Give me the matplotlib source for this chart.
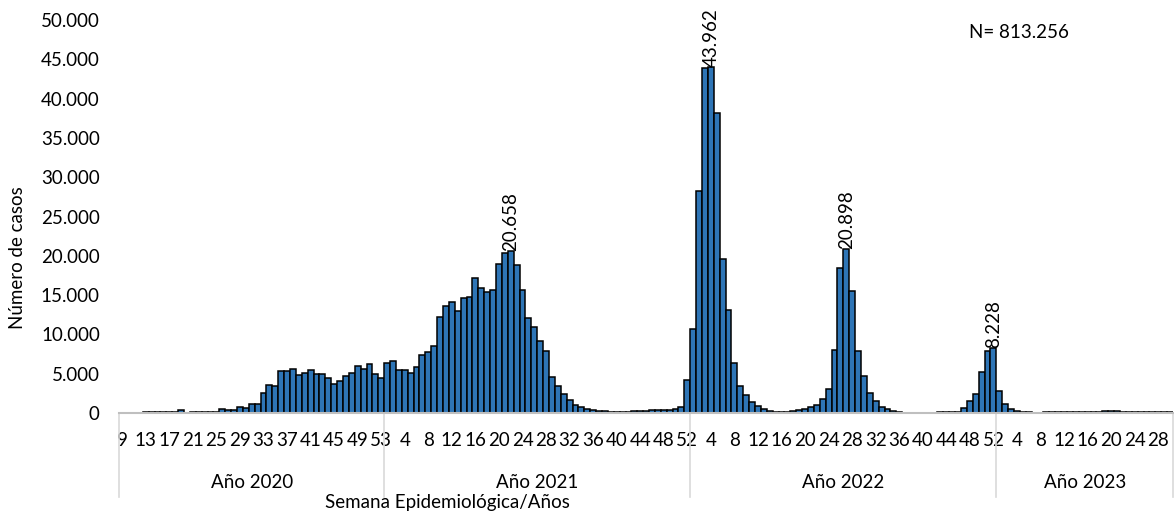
import numpy as np
import matplotlib.pyplot as plt
import matplotlib.transforms as mtransforms

plt.rcParams['font.family'] = ['Lato', 'DejaVu Sans']

# weekly cases per year (2020 starts at week 9, 2023 ends at week 30)
weeks_2020 = list(range(9, 54))
cases_2020 = [20, 30, 40, 60, 80, 90, 100, 130, 150, 100, 350, 60, 80, 100, 120,
              130, 150, 550, 380, 380, 740, 650, 1100, 1100, 2590, 3520, 3390,
              5300, 5390, 5620, 4860, 5090, 5490, 5000, 4980, 4430, 3690, 4100,
              4750, 5150, 6000, 5660, 6190, 4960, 4470]

weeks_2021 = list(range(1, 53))
cases_2021 = [6300, 6600, 5440, 5420, 5080, 5800, 7330, 7800, 8520, 12200, 13600,
              14150, 12920, 14580, 14790, 17120, 15890, 15420, 15680, 18980,
              20340, 20658, 18860, 15680, 12030, 10890, 9190, 7880, 4530, 3470,
              2450, 1680, 1000, 720, 490, 400, 320, 210, 190, 130, 90, 90, 300,
              300, 300, 340, 380, 380, 400, 550, 780, 4240]

weeks_2022 = list(range(1, 53))
cases_2022 = [10680, 28260, 43900, 43962, 38220, 19580, 13090, 6310, 3390, 2290,
              1360, 850, 510, 210, 130, 130, 170, 210, 380, 510, 780, 1000, 1780,
              3050, 8010, 18430, 20898, 15550, 7840, 4660, 2540, 1570, 800, 510,
              210, 90, 60, 50, 50, 50, 60, 60, 70, 80, 90, 150, 640, 1480, 2420,
              5170, 7920, 8228]

weeks_2023 = list(range(1, 31))
cases_2023 = [2750, 1140, 510, 250, 130, 90, 60, 60, 70, 80, 90, 110, 130, 140,
              140, 150, 170, 190, 200, 210, 200, 190, 170, 150, 120, 100, 90, 80,
              70, 70]

years = ["Año 2020", "Año 2021", "Año 2022", "Año 2023"]
year_weeks = [weeks_2020, weeks_2021, weeks_2022, weeks_2023]
year_cases = [cases_2020, cases_2021, cases_2022, cases_2023]
labelled = [(1, 22), (2, 4), (2, 27), (2, 52)]  # (year index, week)
total_text = "N= 813.256"

weeks = [w for ws in year_weeks for w in ws]
cases = [c for cs in year_cases for c in cs]
n = len(cases)
x = np.arange(n)

fs = 13.5

fig = plt.figure(figsize=(11.74, 5.13), dpi=100)
ax = fig.add_axes([0.1016, 0.1949, 0.8975, 0.7661])

ax.bar(x, cases, width=1.0, color="#2E75B6", edgecolor="black", linewidth=1.1)

ax.set_xlim(-0.5, n - 0.5)
ax.set_ylim(0, 50000)
ax.set_yticks(range(0, 50001, 5000))
ax.set_yticklabels([f"{v:,}".replace(",", ".") for v in range(0, 50001, 5000)])
ax.set_xticks(x[::4])
ax.set_xticklabels([str(w) for w in weeks[::4]])
ax.tick_params(axis="x", length=0, pad=14, labelsize=fs)
ax.tick_params(axis="y", length=0, pad=14, labelsize=fs)

for s in ["top", "right", "left"]:
    ax.spines[s].set_visible(False)
ax.spines["bottom"].set_color("#BFBFBF")
ax.spines["bottom"].set_linewidth(1.5)

# year groups under the week labels
trans = mtransforms.blended_transform_factory(ax.transData, ax.transAxes)
start = 0
bounds = [-0.5]
for name, ws in zip(years, year_weeks):
    end = start + len(ws)
    ax.text((start + end - 1) / 2, -0.176, name, transform=trans,
            ha="center", va="center", fontsize=fs)
    bounds.append(end - 0.5)
    start = end
for b in bounds:
    ax.plot([b, b], [0, -0.214], transform=trans, color="#D9D9D9",
            linewidth=1.2, clip_on=False)

# data labels on peaks
offsets = np.cumsum([0] + [len(ws) for ws in year_weeks])
for yi, wk in labelled:
    i = offsets[yi] + year_weeks[yi].index(wk)
    ax.text(i, cases[i], f"{cases[i]:,}".replace(",", "."), rotation=90,
            ha="center", va="bottom", fontsize=fs)

fig.text(0.0145, 0.497, "Número de casos", rotation=90, ha="center",
         va="center", fontsize=fs)
fig.text(0.381, 0.021, "Semana Epidemiológica/Años", ha="center",
         va="center", fontsize=fs)
fig.text(0.868, 0.936, total_text, ha="center", va="center", fontsize=fs)

fig.savefig("out.png", dpi=100)
